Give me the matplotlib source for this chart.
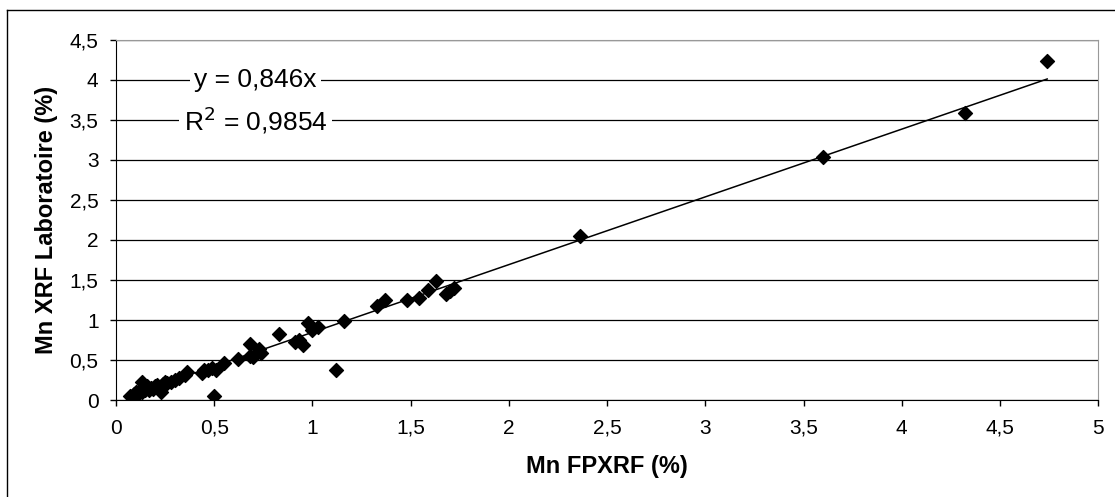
import numpy as np
import matplotlib
matplotlib.use("Agg")
import matplotlib.pyplot as plt
from matplotlib.lines import Line2D

plt.rcParams['font.family'] = ['Liberation Sans', 'DejaVu Sans']

# Mn: portable XRF vs laboratory XRF (%)
mn_fpxrf = [0.07, 0.08, 0.09, 0.10, 0.10, 0.11, 0.12, 0.13, 0.13, 0.14,
            0.15, 0.16, 0.17, 0.18, 0.19, 0.20, 0.21, 0.22, 0.23, 0.24,
            0.25, 0.26, 0.28, 0.30, 0.32, 0.35, 0.36,
            0.44, 0.45, 0.47, 0.49, 0.50, 0.51, 0.55, 0.62, 0.68, 0.68,
            0.70, 0.73, 0.74, 0.83, 0.91, 0.93, 0.95, 0.98, 1.00, 1.03,
            1.12, 1.16, 1.33, 1.37, 1.48, 1.54, 1.59, 1.63, 1.68, 1.70,
            1.72, 2.36, 3.60, 4.32, 4.74]
mn_lab = [0.05, 0.04, 0.07, 0.06, 0.10, 0.08, 0.12, 0.22, 0.10, 0.15,
          0.12, 0.17, 0.13, 0.15, 0.14, 0.17, 0.19, 0.15, 0.10, 0.20,
          0.22, 0.21, 0.23, 0.25, 0.27, 0.31, 0.35,
          0.34, 0.38, 0.37, 0.40, 0.05, 0.38, 0.46, 0.51, 0.70, 0.55,
          0.54, 0.64, 0.59, 0.83, 0.73, 0.75, 0.69, 0.96, 0.88, 0.91,
          0.38, 0.99, 1.17, 1.25, 1.25, 1.28, 1.37, 1.49, 1.33, 1.36,
          1.40, 2.05, 3.03, 3.58, 4.24]

slope = 0.846
r2 = 0.9854

x_ticks = [0, 0.5, 1, 1.5, 2, 2.5, 3, 3.5, 4, 4.5, 5]
y_ticks = [0, 0.5, 1, 1.5, 2, 2.5, 3, 3.5, 4, 4.5]


def fr(v):
    return ('%g' % v).replace('.', ',')


fig = plt.figure(figsize=(11.15, 4.97), dpi=100)
ax = fig.add_axes([0.104, 0.195, 0.881, 0.725])

# outer frame (only left and top visible in the original)
fig.add_artist(Line2D([0.0065, 0.0065], [0, 0.98], transform=fig.transFigure, color='black', lw=1))
fig.add_artist(Line2D([0.0065, 1.0], [0.98, 0.98], transform=fig.transFigure, color='black', lw=1))

ax.set_axisbelow(True)
ax.grid(axis='y', color='black', lw=0.9)
ax.scatter(mn_fpxrf, mn_lab, marker='D', s=50, color='black', zorder=3)

x_fit = np.array([min(mn_fpxrf), max(mn_fpxrf)])
ax.plot(x_fit, slope * x_fit, color='black', lw=1.1, zorder=4)

box = dict(facecolor='white', edgecolor='none', pad=3)
ax.text(0.71, 4.0, 'y = ' + fr(slope) + 'x', ha='center', va='center', fontsize=19, bbox=box, zorder=5)
ax.text(0.71, 3.49, 'R$^2$ = ' + fr(r2), ha='center', va='center', fontsize=19, bbox=box, zorder=5)

ax.set_xlim(0, 5)
ax.set_ylim(0, 4.5)
ax.set_xticks(x_ticks)
ax.set_xticklabels([fr(v) for v in x_ticks])
ax.set_yticks(y_ticks)
ax.set_yticklabels([fr(v) for v in y_ticks])
ax.tick_params(labelsize=15, length=4.5, width=1)
ax.tick_params(axis='y', pad=8)
ax.tick_params(axis='x', pad=9)

for s in ['top', 'right']:
    ax.spines[s].set_color('#999999')
ax.spines['left'].set_color('black')
ax.spines['bottom'].set_color('black')

ax.set_xlabel('Mn FPXRF (%)', fontsize=17, fontweight='bold', labelpad=12)
ax.set_ylabel('Mn XRF Laboratoire (%)', fontsize=17, fontweight='bold', labelpad=8)

fig.savefig('out.png', dpi=100)
